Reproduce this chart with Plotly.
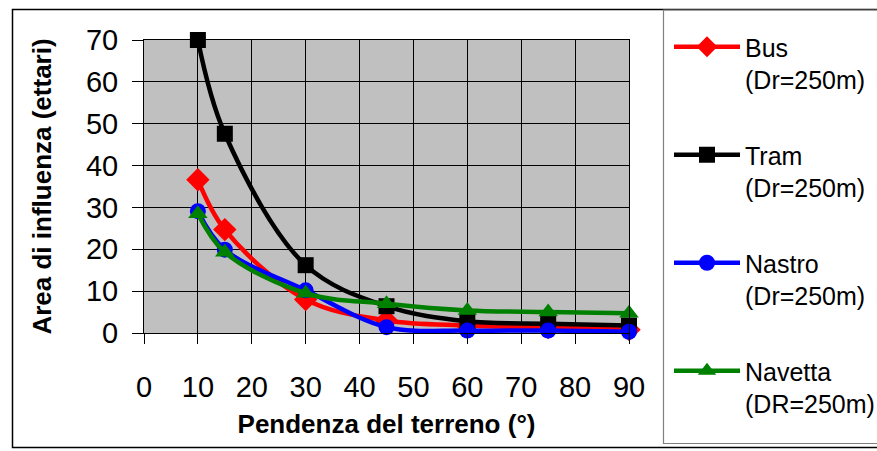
import plotly.graph_objects as go

# ---- data ----
pendenza = [10, 15, 30, 45, 60, 75, 90]
bus = [36.6, 24.7, 8.0, 3.0, 1.8, 1.3, 0.8]
tram = [70.0, 47.6, 16.2, 6.4, 2.8, 2.2, 1.8]
nastro = [29.1, 19.9, 10.2, 1.4, 0.6, 0.6, 0.3]
navetta = [28.5, 19.3, 9.5, 7.0, 5.4, 5.0, 4.7]

series_names = ["Bus<br>(Dr=250m)", "Tram<br>(Dr=250m)", "Nastro<br>(Dr=250m)", "Navetta<br>(DR=250m)"]
series_values = [bus, tram, nastro, navetta]
series_colors = ["#FF0000", "#000000", "#0000FF", "#008000"]
series_symbols = ["diamond", "square", "circle", "triangle-up"]
series_sizes = [18, 16, 16, 17]

x_ticks = [0, 10, 20, 30, 40, 50, 60, 70, 80, 90]
y_ticks = [0, 10, 20, 30, 40, 50, 60, 70]

W, H = 877, 451
L, R, T, B = 144, 629, 40, 333  # plot area pixel box

FONT = "Liberation Sans Narrow, Arial Narrow, Liberation Sans, Arial, sans-serif"

fig = go.Figure()
for i, (name, vals) in enumerate(zip(series_names, series_values)):
    fig.add_trace(go.Scatter(
        x=pendenza, y=vals, name=name, mode="lines+markers",
        legendgroup=f"g{i}", cliponaxis=False,
        line=dict(color=series_colors[i], width=4.5, shape="spline", smoothing=1.0),
        marker=dict(symbol=series_symbols[i], size=series_sizes[i], color=series_colors[i]),
    ))


def px(xp):
    return (xp - L) / (R - L)


def py(yp):
    return (B - yp) / (B - T)


shapes = [
    # outer chart frame
    dict(type="rect", xref="paper", yref="paper", x0=px(12.5), x1=px(890), y0=py(447.5), y1=py(9.5),
         line=dict(color="#000000", width=1.5), fillcolor="rgba(0,0,0,0)", layer="below"),
    # legend box
    dict(type="rect", xref="paper", yref="paper", x0=px(663.5), x1=px(890), y0=py(443.5), y1=py(10),
         line=dict(color="#808080", width=1.2), fillcolor="rgba(0,0,0,0)", layer="below"),
]

fig.update_layout(
    width=W, height=H,
    margin=dict(l=L, r=W - R, t=T, b=H - B, pad=0),
    paper_bgcolor="white",
    plot_bgcolor="#C0C0C0",
    font=dict(family=FONT, size=28, color="black"),
    shapes=shapes,
    showlegend=True,
    legend=dict(
        xref="container", yref="container",
        x=669 / W, y=1 - 24 / H, xanchor="left", yanchor="top",
        bgcolor="rgba(0,0,0,0)", borderwidth=0,
        font=dict(family=FONT, size=25, color="black"),
        valign="top", tracegroupgap=40, itemwidth=66, maxheight=1,
    ),
    xaxis=dict(
        range=[0, 90], tickvals=x_ticks, ticktext=[str(v) for v in x_ticks],
        showgrid=True, gridcolor="black", gridwidth=1,
        zeroline=False, showline=True, linecolor="black", linewidth=1, mirror=True,
        ticks="outside", ticklen=10, tickcolor="black", tickwidth=1,
        ticklabelstandoff=18,
        tickfont=dict(family=FONT, size=29),
        title=dict(text="<b>Pendenza del terreno (°)</b>", font=dict(family=FONT, size=26), standoff=13),
    ),
    yaxis=dict(
        range=[0, 70], tickvals=y_ticks, ticktext=[str(v) for v in y_ticks],
        showgrid=True, gridcolor="black", gridwidth=1,
        zeroline=False, showline=True, linecolor="black", linewidth=1, mirror=True,
        ticks="outside", ticklen=11, tickcolor="black", tickwidth=1,
        ticklabelstandoff=8,
        tickfont=dict(family=FONT, size=29),
        title=dict(text="<b>Area di influenza (ettari)</b>", font=dict(family=FONT, size=26), standoff=26),
    ),
)

fig.write_html("out.html")
